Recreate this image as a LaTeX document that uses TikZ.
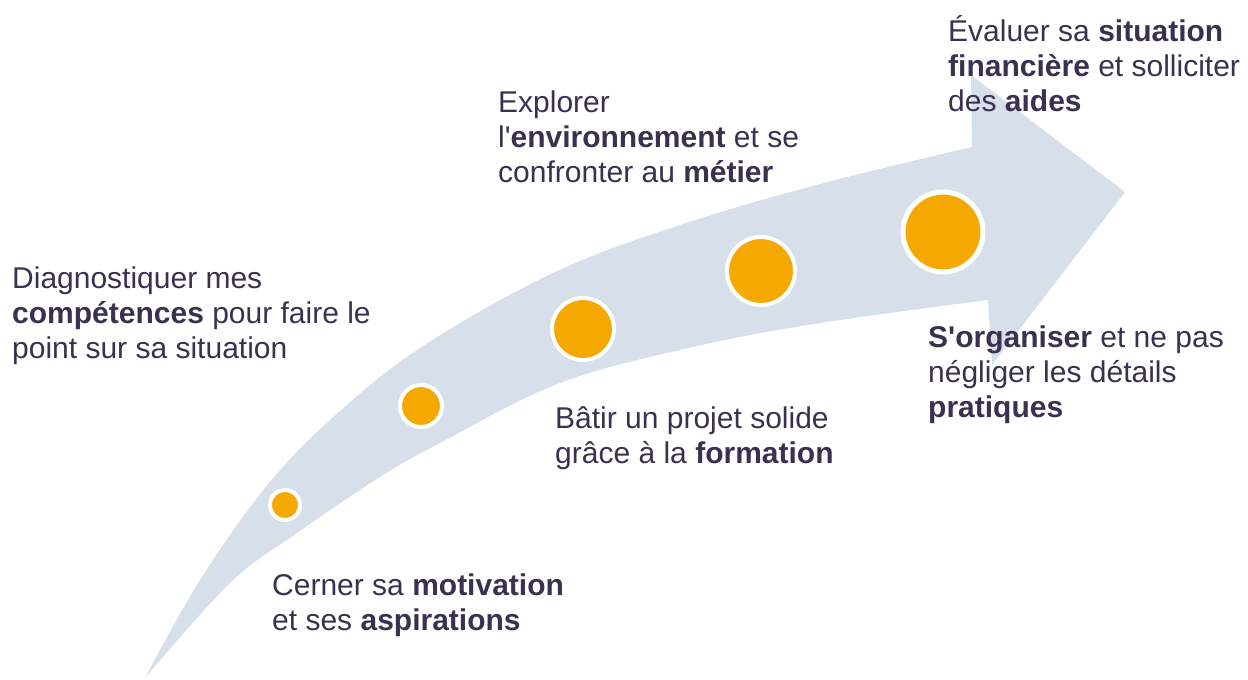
\documentclass[tikz,border=0pt]{standalone}
\usepackage{fontspec}
\setmainfont{Liberation Sans}[Ligatures=TeXOff]
\definecolor{arrowblue}{HTML}{D7DFEB}
\definecolor{dotorange}{HTML}{F5A800}
\definecolor{txt}{HTML}{3A3150}
\tikzset{
  lbl/.style={anchor=base west, inner sep=0pt, text=txt, font=\fontsize{30}{35}\selectfont},
  dot/.style={circle, inner sep=0pt, fill=dotorange, draw=white, line width=4pt},
}
\begin{document}
\begin{tikzpicture}[x=1pt, y=-1pt]
\useasboundingbox (0,0) rectangle (1248,680);
% arrow
\fill[arrowblue] plot[smooth, tension=0.6] coordinates {(145,678) (200,580) (265,488) (330,420) (420,348) (553,273) (680,225) (820,184) (972,147)}
  -- (971,75) -- (1125,192) -- (992,365) --
  plot[smooth, tension=0.6] coordinates {(988,300) (820,323) (693,347) (560,383) (440,443) (380,477) (297,533) (230,583) (145,678)} -- cycle;
% dots
\node[dot, minimum size=30pt] (d1) at (285,505) {};
\node[dot, minimum size=42pt] (d2) at (421,406) {};
\node[dot, minimum size=62pt] (d3) at (583,329) {};
\node[dot, minimum size=68pt] (d4) at (761,271) {};
\node[dot, minimum size=80pt, line width=5pt] (d5) at (943,232) {};
% texts
\node[lbl] (a1) at (12,288) {Diagnostiquer mes};
\node[lbl] (a2) at (12,323) {\textbf{compétences} pour faire le};
\node[lbl] (a3) at (12,358) {point sur sa situation};
\node[lbl] (b1) at (272,595) {Cerner sa \textbf{motivation}};
\node[lbl] (b2) at (272,630) {et ses \textbf{aspirations}};
\node[lbl] (c1) at (555,428) {Bâtir un projet solide};
\node[lbl] (c2) at (555,463) {grâce à la \textbf{formation}};
\node[lbl] (e1) at (498,112) {Explorer};
\node[lbl] (e2) at (498,147) {l'\textbf{environnement} et se};
\node[lbl] (e3) at (498,182) {confronter au \textbf{métier}};
\node[lbl] (f1) at (948,41) {Évaluer sa \textbf{situation}};
\node[lbl] (f2) at (948,76) {\textbf{financière} et solliciter};
\node[lbl] (f3) at (948,111) {des \textbf{aides}};
\node[lbl] (g1) at (928,347) {\textbf{S'organiser} et ne pas};
\node[lbl] (g2) at (928,382) {négliger les détails};
\node[lbl] (g3) at (928,417) {\textbf{pratiques}};
\end{tikzpicture}
\end{document}
